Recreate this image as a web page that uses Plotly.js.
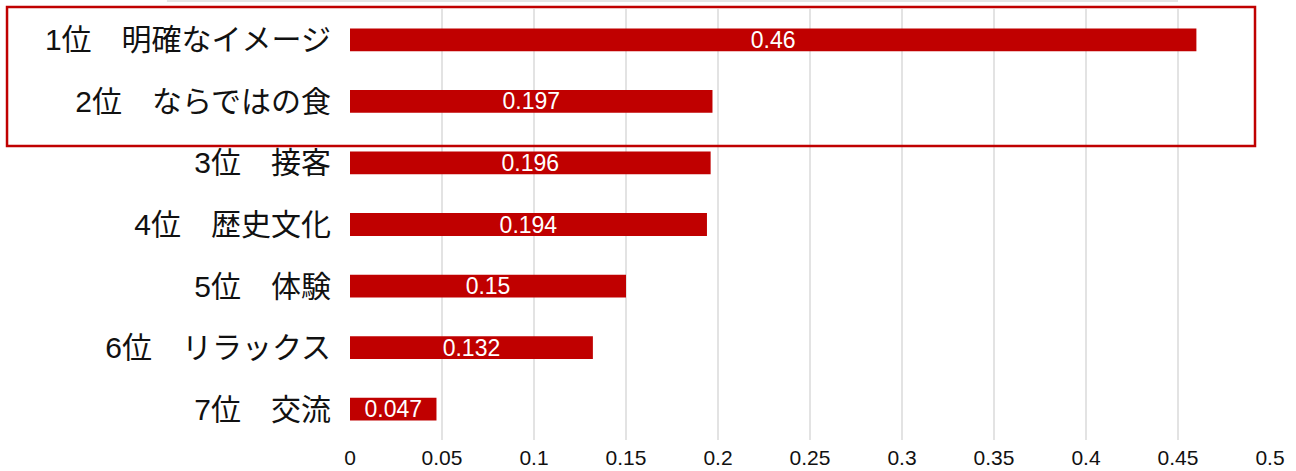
<!DOCTYPE html>
<html><head><meta charset="utf-8">
<script src="https://cdn.plot.ly/plotly-3.0.1.min.js"></script>
<style>html,body{margin:0;padding:0;background:#fff}#chart{width:1296px;height:471px}</style>
</head><body><div id="chart"></div>
<script>
const categories = ["1位　明確なイメージ","2位　ならではの食","3位　接客","4位　歴史文化","5位　体験","6位　リラックス","7位　交流"];
const values = [0.46, 0.197, 0.196, 0.194, 0.15, 0.132, 0.047];
const valueLabels = ["0.46","0.197","0.196","0.194","0.15","0.132","0.047"];
const tickVals = [0,0.05,0.1,0.15,0.2,0.25,0.3,0.35,0.4,0.45,0.5];
const tickText = ["0","0.05","0.1","0.15","0.2","0.25","0.3","0.35","0.4","0.45","0.5"];

const trace = {
  type: 'bar', orientation: 'h',
  x: values, y: categories,
  text: valueLabels, textposition: 'inside', insidetextanchor: 'middle',
  constraintext: 'none',
  textfont: {family: 'Liberation Sans, Arial, sans-serif', size: 23, color: '#ffffff'},
  marker: {color: '#C00000'},
  hoverinfo: 'none'
};
const layout = {
  width: 1296, height: 471,
  margin: {l: 350, r: 26, t: 9, b: 31},
  paper_bgcolor: '#fff', plot_bgcolor: '#fff',
  bargap: 0.63,
  showlegend: false,
  xaxis: {range: [0, 0.5], tickvals: tickVals, ticktext: tickText,
    showgrid: true, gridcolor: '#e3e3e3', gridwidth: 1.5, zeroline: false, showline: false,
    ticks: '', ticklabelstandoff: 3,
    tickfont: {family: 'Liberation Sans, Arial, sans-serif', size: 21, color: '#111'}},
  yaxis: {autorange: 'reversed', showgrid: false, zeroline: false, showline: false, ticks: '',
    ticklabelstandoff: 18,
    tickfont: {family: 'Liberation Sans, Noto Sans CJK JP, sans-serif', size: 30, color: '#111'}},
  shapes: [
    {type: 'rect', xref: 'paper', yref: 'paper', x0: -0.3728, x1: 0.9837, y0: 0.682, y1: 1.0046,
     line: {color: '#C00000', width: 2.5}, fillcolor: 'rgba(0,0,0,0)'},
    {type: 'line', xref: 'paper', yref: 'paper', x0: -0.199, x1: 0.9, y0: 1.0186, y1: 1.0186,
     line: {color: '#dddddd', width: 1.5}}
  ]
};
Plotly.newPlot('chart', [trace], layout, {displayModeBar: false, staticPlot: true});
</script></body></html>
